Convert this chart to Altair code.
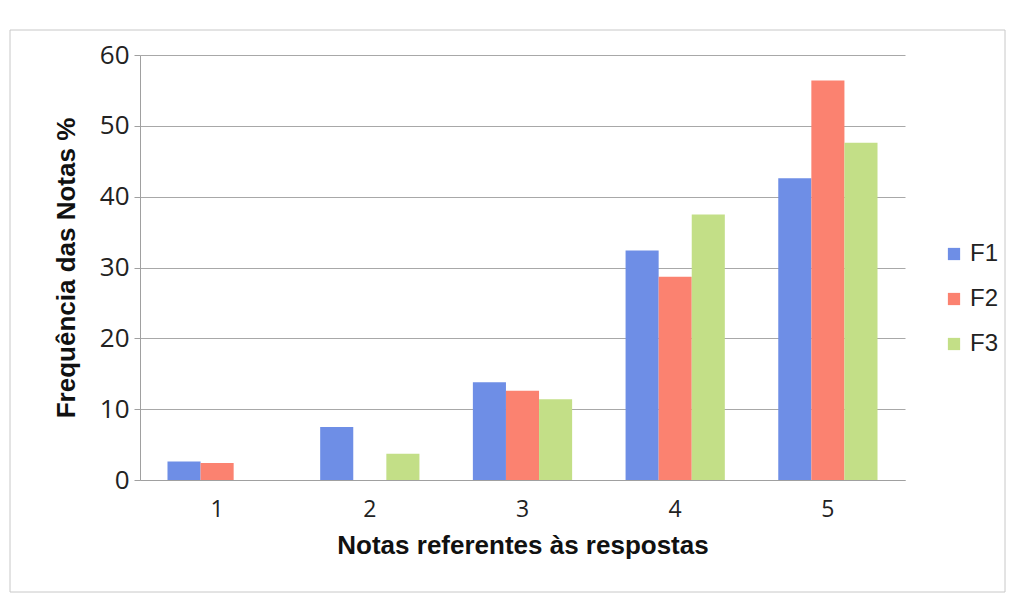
import altair as alt
import pandas as pd

notas = ["1", "2", "3", "4", "5"]
series = ["F1", "F2", "F3"]
f1 = [2.6, 7.5, 13.8, 32.4, 42.6]
f2 = [2.4, 0.0, 12.6, 28.7, 56.4]
f3 = [0.0, 3.7, 11.4, 37.5, 47.6]
colors = ["#6e8ee6", "#fb8270", "#c3df87"]

rows = []
for i, n in enumerate(notas):
    for s, vals in zip(series, [f1, f2, f3]):
        rows.append({"nota": n, "serie": s, "valor": vals[i]})
df = pd.DataFrame(rows)

bars = alt.Chart(df).mark_bar().encode(
    x=alt.X("nota:N", sort=notas,
            scale=alt.Scale(paddingInner=0.35, paddingOuter=0.18),
            axis=alt.Axis(title="Notas referentes às respostas", labelAngle=0,
                          labelFont="Open Sans", labelFontSize=23, labelColor="#222",
                          labelPadding=18, ticks=False, domainColor="#a0a0a0",
                          titleFont="Liberation Sans", titleFontSize=26,
                          titleFontWeight="bold", titleColor="#111", titlePadding=11)),
    xOffset=alt.XOffset("serie:N", sort=series),
    y=alt.Y("valor:Q", scale=alt.Scale(domain=[0, 60]),
            axis=alt.Axis(title="Frequência das Notas %", values=[0, 10, 20, 30, 40, 50, 60],
                          labelFont="Open Sans", labelFontSize=26, labelColor="#222",
                          labelPadding=5, tickSize=6, tickColor="#a0a0a0",
                          domainColor="#a0a0a0", gridColor="#a8a8a8",
                          titleFont="Liberation Sans", titleFontSize=26,
                          titleFontWeight="bold", titleColor="#111", titlePadding=20)),
    color=alt.Color("serie:N", sort=series,
                    scale=alt.Scale(domain=series, range=colors),
                    legend=alt.Legend(title=None, orient="none", legendX=802, legendY=187,
                                      symbolType="square", symbolSize=150,
                                      symbolStrokeWidth=0, labelFont="Liberation Sans",
                                      labelFontSize=24, labelColor="#222",
                                      rowPadding=21, labelOffset=4)),
)

frame = alt.Chart(pd.DataFrame({"a": [0]})).mark_rect(
    fill=None, stroke="#c8c8c8", strokeWidth=1
).encode(
    x=alt.value(-130), x2=alt.value(865), y=alt.value(-25), y2=alt.value(112 + 425)
)

chart = alt.layer(frame, bars).properties(
    width=765, height=425,
    autosize=alt.AutoSizeParams(type="none"),
    padding={"left": 140, "top": 55, "right": 110, "bottom": 118},
    background="white",
).configure_view(stroke=None)

chart.save("out.html", embed_options={"renderer": "svg", "actions": False})
